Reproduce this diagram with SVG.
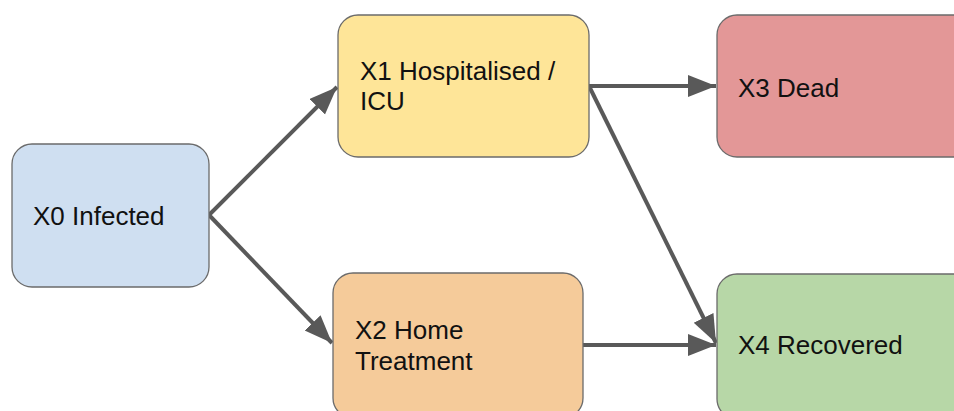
<svg xmlns="http://www.w3.org/2000/svg" width="954" height="411" viewBox="0 0 954 411">
<style>
.node rect{stroke:#6b6b6b;stroke-width:1.3}
.node text{font-family:"Liberation Sans",Arial,sans-serif;font-size:26px;fill:#111}
.edge{stroke:#595959;stroke-width:4;fill:none}
</style>
<defs>
<marker id="ah" markerUnits="userSpaceOnUse" markerWidth="30" markerHeight="24" refX="28" refY="11" orient="auto">
<path d="M0,0 L28,11 L0,22 Z" fill="#595959"/>
</marker>
</defs>
<rect width="954" height="411" fill="#fff"/>
<g id="connectors">
<line class="edge" x1="209" y1="215" x2="337" y2="87" marker-end="url(#ah)"/>
<line class="edge" x1="209" y1="215" x2="332" y2="343" marker-end="url(#ah)"/>
<line class="edge" x1="589" y1="86" x2="716" y2="86" marker-end="url(#ah)"/>
<line class="edge" x1="589" y1="86" x2="716" y2="343" marker-end="url(#ah)"/>
<line class="edge" x1="583" y1="345" x2="716" y2="345" marker-end="url(#ah)"/>
</g>
<g id="x0" class="node">
<rect x="12" y="144" width="197" height="143" rx="20" fill="#cfdff1"/>
<text x="33" y="225">X0 Infected</text>
</g>
<g id="x1" class="node">
<rect x="338" y="15" width="251" height="142" rx="20" fill="#fee598"/>
<text x="360" y="80">X1 Hospitalised /</text>
<text x="360" y="110">ICU</text>
</g>
<g id="x2" class="node">
<rect x="333" y="273" width="250" height="145" rx="20" fill="#f5cb9a"/>
<text x="355" y="339">X2 Home</text>
<text x="355" y="370">Treatment</text>
</g>
<g id="x3" class="node">
<rect x="717" y="15" width="260" height="142" rx="20" fill="#e39797"/>
<text x="738" y="97">X3 Dead</text>
</g>
<g id="x4" class="node">
<rect x="717" y="274" width="260" height="145" rx="20" fill="#b7d7a7"/>
<text x="738" y="354">X4 Recovered</text>
</g>
</svg>
